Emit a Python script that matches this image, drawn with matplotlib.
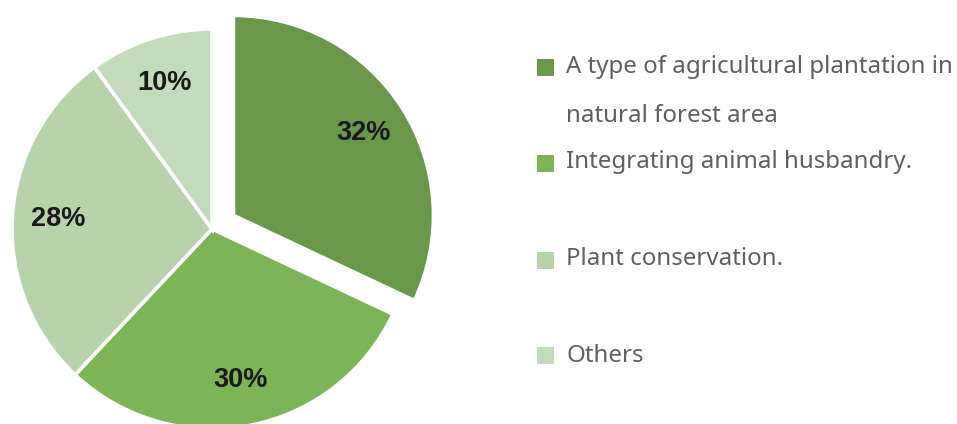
import matplotlib
matplotlib.use("Agg")
import matplotlib.pyplot as plt
from matplotlib.patches import Rectangle

# Survey shares by plantation type
categories = [
    "A type of agricultural plantation in\nnatural forest area",
    "Integrating animal husbandry.",
    "Plant conservation.",
    "Others",
]
shares = [32, 30, 28, 10]
colors = ["#6a984a", "#7db458", "#b8d2ac", "#c4dabc"]
explode = [0.127, 0, 0, 0]

W, H = 957, 424
fig = plt.figure(figsize=(W / 100, H / 100), dpi=100)
fig.patch.set_facecolor("white")


def fx(px):
    return px / W


def fy(py):
    return 1 - py / H


# pie axes: 200 px per data unit, pie centre at pixel (212, 229)
S = 200.0
cx, cy = 212, 229
xl, xr, yb, yt = -1.1, 1.3, -1.2, 1.2
ax = fig.add_axes([
    (cx + xl * S) / W,
    (H - (cy - yb * S)) / H,
    (xr - xl) * S / W,
    (yt - yb) * S / H,
])

wedges, texts, autotexts = ax.pie(
    shares,
    colors=colors,
    explode=explode,
    startangle=90,
    counterclock=False,
    autopct="%d%%",
    pctdistance=0.77,
    wedgeprops=dict(edgecolor="white", linewidth=2.6),
    textprops=dict(fontsize=19.5, fontweight="bold", color="#1a1a1a",
                   family=["Liberation Sans", "DejaVu Sans"]),
)
ax.set_xlim(xl, xr)
ax.set_ylim(yb, yt)
ax.set_aspect("equal")
ax.axis("off")

# legend drawn as squares plus text lines
marker_y = [67.5, 163.5, 260.5, 355.5]
first_baseline = [73, 168, 265, 362]
line_step = 49
for color, label, my, by in zip(colors, categories, marker_y, first_baseline):
    fig.patches.append(Rectangle((fx(537), fy(my + 8.5)), 17 / W, 17 / H,
                                 transform=fig.transFigure, facecolor=color,
                                 edgecolor="none"))
    for i, line in enumerate(label.split("\n")):
        fig.text(fx(566), fy(by + i * line_step), line, ha="left",
                 va="baseline", fontsize=17.3, color="#5f5f5f",
                 family=["Noto Sans", "DejaVu Sans"], fontweight="light")

fig.savefig("out.png", dpi=100)
